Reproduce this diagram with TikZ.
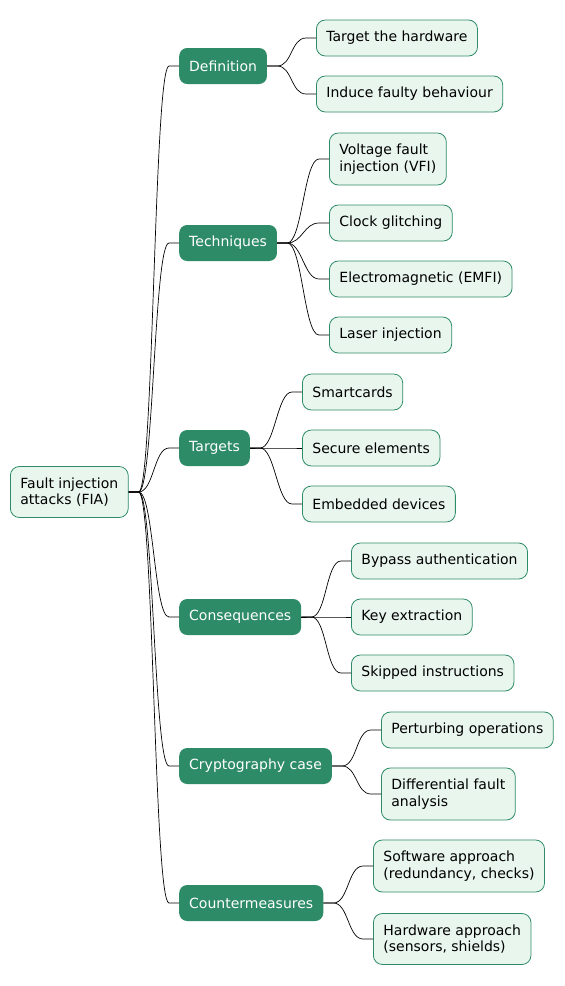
\documentclass[tikz,border=0pt]{standalone}
\usepackage{fontspec}
\setmainfont{DejaVu Sans}
\usetikzlibrary{calc}
\definecolor{fiagreen}{HTML}{2E8B67}
\definecolor{fialight}{HTML}{E9F6EE}
\tikzset{
	rootnode/.style={draw=fiagreen, fill=fialight, line width=0.8pt, rounded corners=9pt, align=left, anchor=west,
		inner xsep=10pt, inner ysep=11pt, font=\fontsize{14}{16.5}\selectfont},
	topicnode/.style={fill=fiagreen, text=white, rounded corners=8pt, anchor=west, minimum height=36pt,
		inner xsep=10pt, inner ysep=0pt, font=\fontsize{14}{16.5}\selectfont},
	leafnode/.style={draw=fiagreen, fill=fialight, line width=0.8pt, rounded corners=9pt, align=left, anchor=west,
		minimum height=36pt, inner xsep=10pt, inner ysep=11pt, font=\fontsize{14}{16.5}\selectfont},
	branch/.style={line width=0.7pt, black}
}
\newcommand{\fork}[2]{\draw[branch] (#1.east) -- ++(10,0) .. controls +(15,0) and +(-15,0) .. ($(#2.west)+(-10,0)$) -- (#2.west);}

\begin{document}
\begin{tikzpicture}[x=1pt, y=-1pt]
      \useasboundingbox[fill=white] (0,0) rectangle (565,986);
      \node[rootnode] (fia) at (10,492) {Fault injection\\attacks (FIA)};

      % first level
      \node[topicnode] (def) at (179,66) {Definition};
      \node[topicnode] (tech) at (179,243) {Techniques};
      \node[topicnode] (targ) at (179,448) {Targets};
      \node[topicnode] (cons) at (179,617) {Consequences};
      \node[topicnode] (crypto) at (179,766) {Cryptography case};
      \node[topicnode] (counter) at (179,903) {Countermeasures};

      % leaves
      \node[leafnode] (hw) at (316,38) {Target the hardware};
      \node[leafnode] (induce) at (316,94) {Induce faulty behaviour};
      \node[leafnode] (vfi) at (329,159) {Voltage fault\\injection (VFI)};
      \node[leafnode] (clock) at (329,223) {Clock glitching};
      \node[leafnode] (emfi) at (329,279) {Electromagnetic (EMFI)};
      \node[leafnode] (laser) at (329,335) {Laser injection};
      \node[leafnode] (smart) at (302,392) {Smartcards};
      \node[leafnode] (secure) at (302,448) {Secure elements};
      \node[leafnode] (embed) at (302,504) {Embedded devices};
      \node[leafnode] (bypass) at (351,561) {Bypass authentication};
      \node[leafnode] (keyx) at (351,617) {Key extraction};
      \node[leafnode] (skip) at (351,673) {Skipped instructions};
      \node[leafnode] (perturb) at (381,730) {Perturbing operations};
      \node[leafnode] (dfa) at (381,794) {Differential fault\\analysis};
      \node[leafnode] (soft) at (373,866) {Software approach\\(redundancy, checks)};
      \node[leafnode] (hard) at (373,939) {Hardware approach\\(sensors, shields)};

      % branches
      \foreach \t in {def,tech,targ,cons,crypto,counter} {\fork{fia}{\t}}
      \foreach \t in {hw,induce} {\fork{def}{\t}}
      \foreach \t in {vfi,clock,emfi,laser} {\fork{tech}{\t}}
      \foreach \t in {smart,secure,embed} {\fork{targ}{\t}}
      \foreach \t in {bypass,keyx,skip} {\fork{cons}{\t}}
      \foreach \t in {perturb,dfa} {\fork{crypto}{\t}}
      \foreach \t in {soft,hard} {\fork{counter}{\t}}
    \end{tikzpicture}
\end{document}
